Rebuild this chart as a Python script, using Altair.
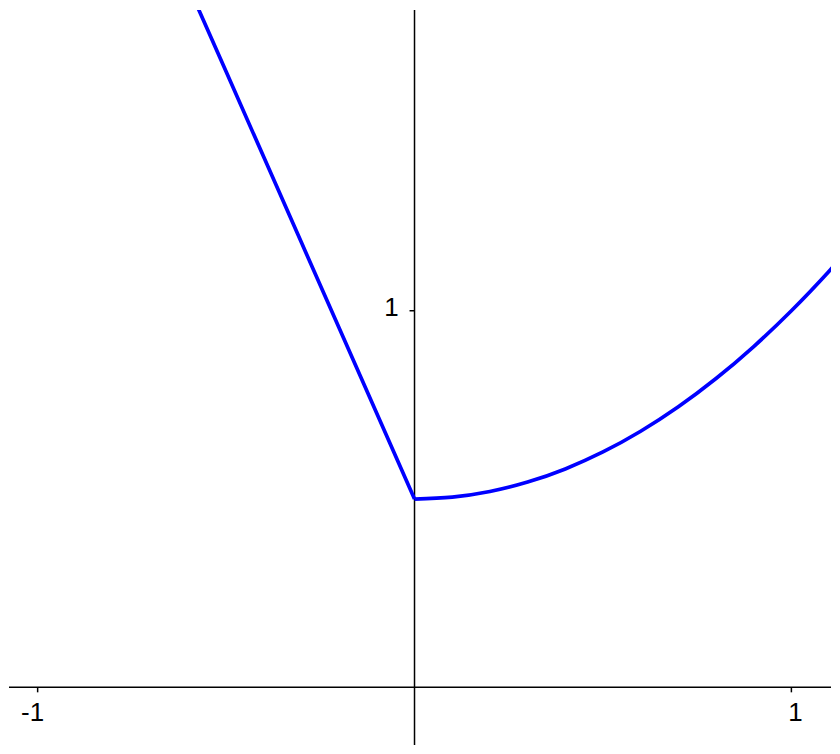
import altair as alt
import pandas as pd

# ---- data ----
left_x = [-0.62, -0.5, -0.4, -0.3, -0.2, -0.1, 0.0]
left_y = [1.907, 1.635, 1.408, 1.181, 0.954, 0.727, 0.5]

right_x = [0.0, 0.1, 0.2, 0.3, 0.4, 0.5, 0.6, 0.7, 0.8, 0.9, 1.0, 1.1, 1.15]
right_y = [0.5, 0.505, 0.52, 0.545, 0.58, 0.625, 0.68, 0.745, 0.82, 0.905, 1.0, 1.105, 1.161]

x_ticks = [-1, 1]
x_tick_labels = ["-1", "1"]
y_ticks = [1]
y_tick_labels = ["1"]

# ---- layout ----
W, H = 824, 737
x_dom = [-1.0760, 1.1051]
y_dom = [-0.1534, 1.7989]
xs = alt.Scale(domain=x_dom, nice=False, zero=False)
ys = alt.Scale(domain=y_dom, nice=False, zero=False)
px_per_y = H / (y_dom[1] - y_dom[0])
px_per_x = W / (x_dom[1] - x_dom[0])
tick_len = 5
FONT = "Liberation Sans"
BLUE = "#0000ff"
LW = 3.7

left_df = pd.DataFrame({"x": left_x, "y": left_y, "i": range(len(left_x))})
right_df = pd.DataFrame({"x": right_x, "y": right_y, "i": range(len(right_x))})
xt_df = pd.DataFrame({"x": x_ticks, "y": [0] * len(x_ticks),
                      "y2": [-tick_len / px_per_y] * len(x_ticks), "label": x_tick_labels})
yt_df = pd.DataFrame({"y": y_ticks, "x": [0] * len(y_ticks),
                      "x2": [-tick_len / px_per_x] * len(y_ticks), "label": y_tick_labels})


def X(f):
    return alt.X(f, type="quantitative", scale=xs, axis=None)


def Y(f):
    return alt.Y(f, type="quantitative", scale=ys, axis=None)


x_axis = alt.Chart(pd.DataFrame({"y": [0]})).mark_rule(color="#000000", strokeWidth=1.5).encode(
    y=Y("y"), x=alt.value(0), x2=alt.value(W))
y_axis = alt.Chart(pd.DataFrame({"x": [0]})).mark_rule(color="#000000", strokeWidth=1.5).encode(
    x=X("x"), y=alt.value(0), y2=alt.value(H))

xt = alt.Chart(xt_df).mark_rule(color="#000000", strokeWidth=1.5).encode(
    x=X("x"), y=Y("y"), y2="y2")
yt = alt.Chart(yt_df).mark_rule(color="#000000", strokeWidth=1.5).encode(
    y=Y("y"), x=X("x"), x2="x2")

xl_neg = alt.Chart(xt_df[xt_df["x"] < 0]).mark_text(font=FONT, fontSize=26, color="#000000",
                                                    align="center", baseline="alphabetic",
                                                    dx=-5, dy=34).encode(
    x=X("x"), y=Y("y"), text="label:N")
xl_pos = alt.Chart(xt_df[xt_df["x"] > 0]).mark_text(font=FONT, fontSize=26, color="#000000",
                                                    align="center", baseline="alphabetic",
                                                    dx=4, dy=34).encode(
    x=X("x"), y=Y("y"), text="label:N")
yl = alt.Chart(yt_df).mark_text(font=FONT, fontSize=26, color="#000000", align="right",
                                baseline="alphabetic", dx=-16, dy=5).encode(
    x=X("x"), y=Y("y"), text="label:N")

left_line = alt.Chart(left_df).mark_line(color=BLUE, strokeWidth=LW, clip=True).encode(
    x=X("x"), y=Y("y"), order="i:Q")
right_line = alt.Chart(right_df).mark_line(color=BLUE, strokeWidth=LW, clip=True,
                                           interpolate="monotone").encode(
    x=X("x"), y=Y("y"), order="i:Q")

chart = alt.layer(x_axis, y_axis, xt, yt, xl_neg, xl_pos, yl, left_line, right_line).properties(
    width=W, height=H, padding=0, background="white"
).configure_view(stroke=None)

chart.save("out.html", embed_options={"renderer": "svg", "actions": False})
